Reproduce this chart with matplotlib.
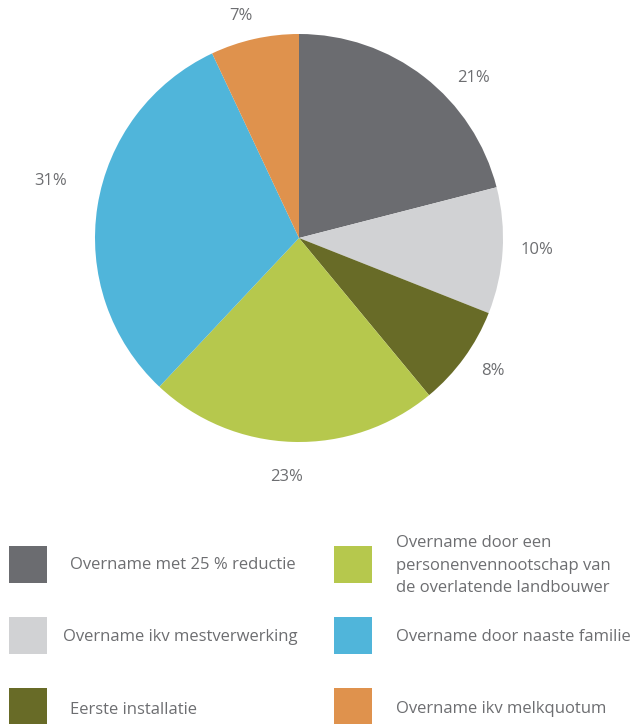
import numpy as np
import matplotlib.pyplot as plt
from matplotlib.patches import Rectangle

plt.rcParams['font.family'] = ['Open Sans', 'DejaVu Sans']

# aandeel per type overname (%)
labels = ['Overname met 25 % reductie',
          'Overname ikv mestverwerking',
          'Eerste installatie',
          'Overname door een\npersonenvennootschap van\nde overlatende landbouwer',
          'Overname door naaste familie',
          'Overname ikv melkquotum']
shares = [21, 10, 8, 23, 31, 7]
colors = ['#6b6c70', '#d1d2d4', '#686b27', '#b6c84d', '#50b5da', '#df924d']

text_color = '#6d6e71'
W, H = 632, 724

fig = plt.figure(figsize=(W / 100, H / 100), dpi=100)

# pie: centre (299, 238) px, radius 204 px
cx, cy, R = 299, 238, 204
ax = fig.add_axes([(cx - R) / W, 1 - (cy + R) / H, 2 * R / W, 2 * R / H])
wedges, _ = ax.pie(shares, colors=colors, startangle=90, counterclock=False,
                   radius=1, wedgeprops=dict(linewidth=0))
ax.set_xlim(-1, 1)
ax.set_ylim(-1, 1)
ax.set_aspect('auto')
ax.axis('off')

# percentage labels just outside each wedge
nudge = [-9.7, 0.7, 1.6, -1.1, -3.9, 2.0]
dist = [1.16, 1.168, 1.153, 1.173, 1.25, 1.125]
for w, v, dn, r in zip(wedges, shares, nudge, dist):
    ang = np.deg2rad((w.theta1 + w.theta2) / 2 + dn)
    ax.text(r * np.cos(ang), r * np.sin(ang), f'{v}%', ha='center', va='center',
            fontsize=12, color=text_color)

# legend in two columns
box_x = [9, 9, 9, 334, 334, 334]
box_y = [546, 617, 688, 546, 617, 688]
txt_x = [70, 63, 70, 396, 396, 396]
base_y = [569, 641, 714, 547, 641, 713]
for i, (lab, col) in enumerate(zip(labels, colors)):
    fig.patches.append(Rectangle((box_x[i] / W, 1 - (box_y[i] + 37) / H), 38 / W, 37 / H,
                                 transform=fig.transFigure, facecolor=col,
                                 edgecolor='none'))
    for j, line in enumerate(lab.split('\n')):
        fig.text(txt_x[i] / W, 1 - (base_y[i] + j * 22.5) / H, line,
                 ha='left', va='baseline', fontsize=12, color=text_color)

fig.savefig('out.png', dpi=100, facecolor='white')
